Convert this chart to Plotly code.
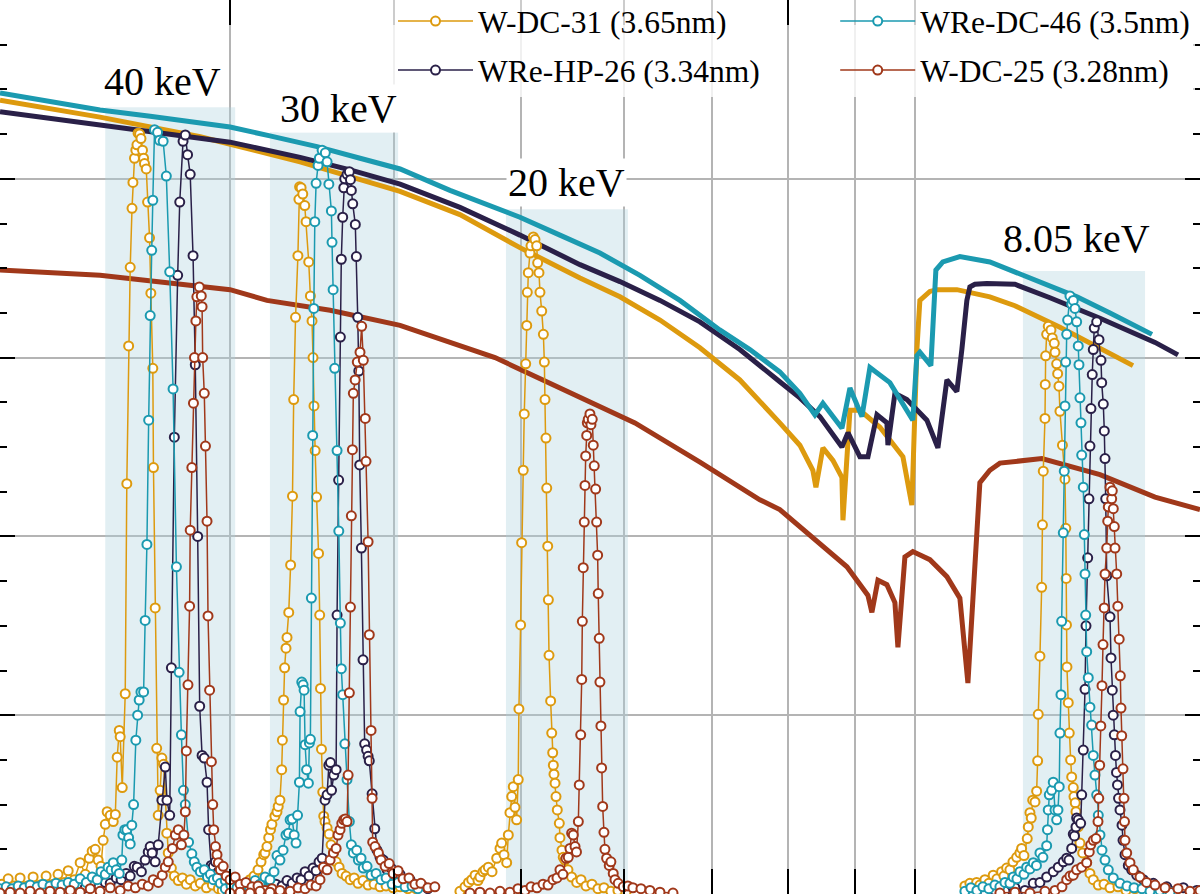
import numpy as np
import plotly.graph_objects as go

# ---------------- colours ----------------
ORANGE = "#DD9A0E"
TEAL = "#1B9AB0"
NAVY = "#2A2048"
RUST = "#A0381A"
SHADE = "rgba(172,210,220,0.35)"
GRID = "#B4B4B4"

# ---------------- thick curves: (theta [deg], reflectivity) ----------------
teal_curve = [(0.2002,.896),(.2186,.887),(.2387,.877),(.2607,.870),(.2847,.862),(.3000,.858),(.3218,.848),(.3496,.836),
              (.3770,.823),(.4045,.811),(.4416,.787),(.4994,.757),(.5358,.737),(.5748,.717),(.6167,.692),(.6616,.664),
              (.7096,.631),(.7482,.609),(.7886,.584),(.8169,.560),(.8388,.536),(.8507,.549),(.8796,.521),(.8921,.566),
              (.9111,.534),(.9240,.589),(.9570,.572),(.9964,.530),(1.0035,.602),(1.0088,.606),(1.0285,.591),(1.0376,.698),
              (1.0504,.707),(1.0634,.710),(1.0823,.713),(1.1409,.707),(1.1923,.696),(1.2680,.681),(1.3297,.668),
              (1.4092,.650),(1.5172,.626)]
navy_curve = [(0.2002,.875),(.2387,.860),(.3000,.841),(.3393,.824),(.3705,.810),(.4045,.794),(.4494,.768),(.4994,.737),
              (.5550,.704),(.5954,.685),(.6388,.664),(.6853,.640),(.7351,.609),(.7886,.573),(.8169,.555),(.8462,.534),
              (.8796,.500),(.8890,.516),(.9079,.489),(.9208,.489),(.9355,.536),(.9520,.527),(.9537,.502),(.9655,.560),
              (.9860,.553),(1.0213,.530),(1.0413,.499),(1.0579,.575),(1.0766,.562),(1.0861,.609),(1.0957,.664),
              (1.1015,.679),(1.1112,.682),(1.1349,.683),(1.1923,.682),(1.2680,.667),(1.3846,.644),(1.5253,.617),
              (1.5882,.603)]
orange_curve = [(0.2002,.888),(.2387,.869),(.2847,.847),(.3393,.819),(.4045,.786),(.4494,.760),(.4994,.723),(.5550,.689),
                (.5954,.668),(.6388,.642),(.6853,.611),(.7351,.575),(.7886,.527),(.8169,.502),(.8358,.474),(.8403,.455),
                (.8507,.499),(.8658,.485),(.8796,.466),(.8812,.418),(.8921,.541),(.9079,.541),(.9404,.522),(.9792,.489),
                (.9947,.435),(1.0035,.609),(1.0088,.664),(1.0267,.674),(1.0394,.676),(1.0766,.676),(1.1409,.668),
                (1.1923,.658),(1.2905,.634),(1.3846,.611),(1.4674,.591)]
rust_curve = [(0.2002,.698),(.2387,.692),(.3000,.676),(.3201,.664),(.3577,.653),(.4045,.636),(.4780,.600),(.5358,.566),
              (.6113,.527),(.6853,.483),(.7614,.441),(.7886,.430),(.8358,.399),(.8874,.366),(.9208,.334),(.9272,.315),
              (.9371,.351),(.9520,.346),(.9655,.326),(.9706,.276),(.9826,.377),(.9964,.383),(1.0267,.374),(1.0579,.355),
              (1.0823,.331),(1.0977,.236),(1.1210,.460),(1.1409,.474),(1.1612,.482),(1.2502,.487),(1.3846,.469),
              (1.5253,.444),(1.6508,.430)]

# ---------------- measured scans: (theta [deg], reflectivity) ----------------
o40 = [(.2009,.011),(.2031,.017),(.2052,.009),(.2074,.018),(.2100,.009),(.2122,.019),(.2148,.010),(.2171,.020),(.2198,.011),
       (.2217,.022),(.2241,.013),(.2257,.026),(.2281,.016),(.2305,.035),(.2326,.022),(.2342,.040),(.2354,.048),(.2367,.050),
       (.2379,.038),(.2391,.031),(.2400,.060),(.2409,.078),(.2417,.092),(.2430,.088),(.2443,.081),(.2452,.089),(.2460,.153),
       (.2469,.183),(.2473,.176),(.2482,.119),(.2495,.224),(.2502,.459),(.2510,.613),(.2517,.701),(.2525,.767),(.2529,.796),
       (.2536,.823),(.2542,.832),(.2547,.838),(.2552,.851),(.2559,.850),(.2565,.845),(.2572,.832),(.2577,.823),(.2581,.817),
       (.2589,.811),(.2595,.774),(.2604,.734),(.2610,.672),(.2619,.588),(.2622,.477),(.2630,.320),(.2637,.163),(.2644,.088),
       (.2653,.116),(.2661,.152),(.2669,.145),(.2677,.105),(.2684,.068),(.2691,.046),(.2706,.029),(.2720,.020),(.2739,.015),
       (.2759,.018),(.2778,.011),(.2797,.016),(.2822,.009),(.2847,.012),(.2878,.007),(.2908,.010),(.2939,.006),(.2975,.008),
       (.3011,.004),(.3053,.007),(.3107,.003),(.3162,.004)]
t40 = [(.2002,.006),(.2024,.008),(.2045,.006),(.2067,.009),(.2089,.007),(.2111,.010),(.2137,.008),(.2159,.011),(.2186,.009),
       (.2209,.012),(.2233,.010),(.2257,.013),(.2281,.011),(.2305,.017),(.2330,.013),(.2354,.019),(.2375,.016),(.2391,.025),
       (.2409,.022),(.2421,.030),(.2434,.027),(.2443,.035),(.2456,.027),(.2469,.023),(.2480,.038),(.2485,.066),(.2493,.072),
       (.2502,.072),(.2510,.063),(.2517,.056),(.2524,.077),(.2532,.100),(.2542,.172),(.2550,.200),(.2557,.217),(.2565,.226),
       (.2577,.226),(.2584,.306),(.2592,.391),(.2600,.530),(.2607,.647),(.2614,.720),(.2619,.776),(.2627,.855),(.2641,.852),
       (.2650,.843),(.2667,.842),(.2682,.803),(.2698,.696),(.2714,.565),(.2730,.366),(.2743,.248),(.2754,.178),(.2764,.116),
       (.2773,.100),(.2789,.058),(.2805,.045),(.2817,.036),(.2830,.030),(.2847,.025),(.2867,.027),(.2883,.019),(.2898,.022),
       (.2913,.016),(.2934,.018),(.2949,.012),(.2975,.015),(.3000,.010),(.3032,.012),(.3064,.008),(.3096,.010),(.3135,.007),
       (.3173,.008),(.3218,.006)]
n40 = [(.2002,.002),(.2027,.004),(.2052,.002),(.2078,.006),(.2104,.003),(.2130,.007),(.2156,.003),(.2186,.008),(.2213,.004),
       (.2241,.009),(.2269,.006),(.2297,.010),(.2326,.007),(.2354,.011),(.2383,.008),(.2409,.013),(.2430,.012),(.2456,.018),
       (.2477,.016),(.2499,.023),(.2517,.020),(.2535,.031),(.2548,.030),(.2567,.025),(.2584,.038),(.2598,.047),(.2607,.053),
       (.2616,.046),(.2630,.036),(.2644,.055),(.2661,.105),(.2677,.142),(.2685,.105),(.2698,.088),(.2706,.253),(.2720,.511),
       (.2736,.692),(.2746,.774),(.2762,.842),(.2773,.849),(.2784,.827),(.2797,.805),(.2811,.714),(.2822,.592),(.2834,.400),
       (.2844,.210),(.2856,.155),(.2867,.152),(.2881,.125),(.2889,.072),(.2902,.032),(.2913,.031),(.2924,.036),(.2939,.025),
       (.2959,.016),(.2980,.020),(.3000,.011),(.3027,.015),(.3053,.008),(.3085,.011),(.3118,.006),(.3151,.008),(.3190,.003)]
r40 = [(.2002,.001),(.2038,.002),(.2074,.001),(.2111,.003),(.2148,.001),(.2186,.003),(.2225,.002),(.2265,.004),(.2305,.002),
       (.2346,.006),(.2387,.003),(.2430,.007),(.2473,.004),(.2508,.009),(.2540,.007),(.2571,.011),(.2598,.009),(.2621,.016),
       (.2644,.013),(.2663,.021),(.2677,.030),(.2691,.036),(.2711,.051),(.2725,.066),(.2739,.072),(.2754,.055),(.2766,.066),
       (.2773,.092),(.2778,.160),(.2786,.234),(.2794,.322),(.2797,.407),(.2805,.477),(.2813,.549),(.2818,.600),(.2825,.641),
       (.2830,.668),(.2842,.679),(.2852,.669),(.2856,.657),(.2859,.600),(.2867,.560),(.2873,.501),(.2881,.417),(.2886,.311),
       (.2894,.228),(.2903,.148),(.2910,.100),(.2915,.072),(.2924,.053),(.2932,.044),(.2939,.035),(.2949,.027),(.2964,.031),
       (.2980,.020),(.3000,.016),(.3027,.019),(.3053,.011),(.3085,.013),(.3118,.008),(.3151,.009),(.3190,.004),(.3229,.006),
       (.3275,.002)]
o30 = [(.2959,.004),(.2990,.008),(.3021,.006),(.3053,.011),(.3080,.009),(.3107,.016),(.3129,.020),(.3151,.027),(.3168,.036),
       (.3183,.044),(.3190,.046),(.3201,.053),(.3211,.063),(.3221,.072),(.3229,.078),(.3246,.087),(.3258,.092),(.3265,.098),
       (.3275,.105),(.3285,.139),(.3289,.172),(.3296,.217),(.3302,.253),(.3310,.275),(.3316,.287),(.3326,.315),(.3337,.368),
       (.3348,.445),(.3355,.553),(.3366,.645),(.3380,.714),(.3386,.777),(.3390,.791),(.3399,.790),(.3409,.783),(.3421,.770),
       (.3429,.752),(.3445,.707),(.3455,.669),(.3465,.641),(.3471,.600),(.3477,.546),(.3484,.496),(.3493,.444),(.3505,.381),
       (.3512,.312),(.3517,.230),(.3523,.162),(.3531,.114),(.3537,.087),(.3545,.081),(.3558,.074),(.3571,.067),(.3583,.055),
       (.3598,.046),(.3615,.036),(.3634,.030),(.3653,.023),(.3679,.020),(.3705,.016),(.3731,.018),(.3757,.012),(.3790,.015),
       (.3824,.010),(.3864,.011),(.3905,.008),(.3947,.009),(.3996,.007),(.4045,.008),(.4101,.006),(.4160,.006)]
t30 = [(.2975,.006),(.3005,.009),(.3037,.007),(.3069,.011),(.3102,.009),(.3135,.015),(.3162,.011),(.3190,.019),(.3218,.016),
       (.3241,.025),(.3258,.043),(.3275,.038),(.3293,.049),(.3310,.066),(.3324,.068),(.3334,.083),(.3346,.084),(.3358,.066),
       (.3369,.057),(.3378,.088),(.3389,.125),(.3393,.204),(.3403,.237),(.3411,.234),(.3417,.228),(.3423,.167),(.3432,.139),
       (.3443,.124),(.3449,.169),(.3455,.173),(.3461,.331),(.3469,.513),(.3476,.655),(.3482,.752),(.3490,.795),(.3502,.815),
       (.3510,.823),(.3527,.832),(.3547,.829),(.3558,.819),(.3569,.794),(.3585,.764),(.3589,.729),(.3596,.676),(.3606,.588),
       (.3621,.496),(.3632,.406),(.3642,.303),(.3648,.252),(.3657,.223),(.3671,.168),(.3685,.128),(.3700,.081),(.3713,.055),
       (.3726,.046),(.3748,.049),(.3759,.038),(.3777,.040),(.3792,.029),(.3817,.031),(.3844,.021),(.3878,.023),(.3912,.016),
       (.3947,.018),(.3989,.011),(.4031,.013),(.4081,.008),(.4131,.009),(.4174,.006)]
n30 = [(.2990,.002),(.3027,.004),(.3064,.003),(.3102,.007),(.3140,.004),(.3179,.009),(.3218,.007),(.3252,.011),(.3287,.009),
       (.3316,.015),(.3346,.012),(.3375,.018),(.3399,.016),(.3423,.025),(.3447,.020),(.3471,.029),(.3490,.026),(.3508,.036),
       (.3527,.040),(.3545,.105),(.3558,.111),(.3569,.144),(.3579,.147),(.3586,.116),(.3600,.133),(.3615,.139),(.3621,.312),
       (.3631,.463),(.3642,.623),(.3648,.710),(.3657,.757),(.3664,.790),(.3670,.800),(.3685,.805),(.3700,.808),(.3707,.799),
       (.3713,.787),(.3722,.772),(.3739,.749),(.3746,.713),(.3755,.645),(.3762,.585),(.3768,.480),(.3779,.387),(.3790,.262),
       (.3801,.168),(.3814,.161),(.3824,.154),(.3832,.149),(.3851,.112),(.3869,.073),(.3884,.049),(.3905,.041),(.3928,.038),
       (.3954,.027),(.3982,.029),(.4010,.020),(.4045,.022),(.4081,.015),(.4116,.016),(.4160,.009),(.4204,.010),(.4248,.006)]
r30 = [(.3000,.001),(.3053,.002),(.3107,.001),(.3162,.003),(.3218,.002),(.3275,.004),(.3334,.003),(.3381,.007),(.3423,.006),
       (.3459,.010),(.3490,.009),(.3514,.016),(.3535,.030),(.3558,.027),(.3577,.038),(.3598,.046),(.3615,.051),(.3627,.066),
       (.3640,.072),(.3651,.079),(.3663,.083),(.3674,.084),(.3685,.081),(.3692,.133),(.3700,.225),(.3707,.321),(.3713,.423),
       (.3720,.497),(.3726,.560),(.3738,.575),(.3752,.595),(.3770,.606),(.3781,.635),(.3792,.597),(.3805,.532),(.3810,.484),
       (.3824,.394),(.3832,.290),(.3844,.183),(.3851,.107),(.3855,.058),(.3871,.053),(.3894,.046),(.3912,.038),(.3940,.031),
       (.3968,.034),(.3996,.023),(.4031,.026),(.4066,.017),(.4109,.018),(.4152,.011),(.4196,.012),(.4248,.007),(.4300,.008)]
o20 = [(.4494,.003),(.4534,.008),(.4562,.013),(.4588,.016),(.4615,.021),(.4639,.015),(.4655,.019),(.4680,.025),(.4697,.027),
       (.4724,.030),(.4755,.025),(.4794,.040),(.4822,.051),(.4836,.057),(.4856,.044),(.4879,.035),(.4893,.066),(.4907,.091),
       (.4922,.109),(.4936,.120),(.4951,.097),(.4965,.083),(.4979,.128),(.4985,.207),(.5000,.301),(.5009,.393),(.5023,.474),
       (.5032,.537),(.5045,.593),(.5054,.636),(.5059,.673),(.5068,.695),(.5083,.717),(.5092,.725),(.5113,.735),(.5128,.732),
       (.5143,.725),(.5152,.706),(.5164,.695),(.5173,.673),(.5189,.652),(.5204,.626),(.5213,.595),(.5219,.553),(.5228,.510),
       (.5235,.454),(.5244,.389),(.5250,.329),(.5256,.267),(.5271,.216),(.5281,.180),(.5290,.158),(.5296,.144),(.5302,.134),
       (.5312,.124),(.5321,.109),(.5333,.094),(.5352,.079),(.5358,.063),(.5377,.049),(.5389,.041),(.5405,.038),(.5434,.027),
       (.5469,.019),(.5518,.013),(.5560,.016),(.5609,.009),(.5668,.011),(.5728,.006),(.5789,.007),(.5860,.003),(.5933,.004),
       (.6017,.002)]
r20 = [(.4574,.001),(.4655,.002),(.4738,.001),(.4822,.003),(.4907,.002),(.4977,.006),(.5039,.004),(.5092,.008),(.5146,.007),
       (.5201,.011),(.5247,.010),(.5293,.016),(.5330,.018),(.5358,.027),(.5386,.022),(.5415,.040),(.5437,.041),(.5453,.051),
       (.5469,.068),(.5485,.066),(.5502,.053),(.5516,.047),(.5534,.081),(.5543,.122),(.5557,.178),(.5567,.240),(.5573,.305),
       (.5582,.365),(.5592,.416),(.5599,.457),(.5606,.490),(.5616,.513),(.5622,.527),(.5631,.531),(.5648,.537),(.5658,.525),
       (.5671,.531),(.5681,.502),(.5691,.479),(.5705,.453),(.5715,.416),(.5725,.379),(.5731,.336),(.5741,.286),(.5748,.237),
       (.5758,.188),(.5765,.141),(.5776,.098),(.5789,.069),(.5799,.050),(.5816,.040),(.5843,.032),(.5860,.036),(.5884,.023),
       (.5902,.016),(.5936,.012),(.5989,.008),(.6038,.009),(.6091,.007),(.6178,.006),(.6276,.004),(.6388,.002),(.6536,.001)]
o8 = [(1.0919,.009),(1.1015,.012),(1.1146,.013),(1.1210,.010),(1.1310,.016),(1.1389,.012),(1.1476,.021),(1.1551,.017),
      (1.1647,.025),(1.1694,.020),(1.1750,.029),(1.1818,.027),(1.1881,.036),(1.1959,.041),(1.2028,.046),(1.2064,.051),
      (1.2114,.043),(1.2184,.062),(1.2206,.075),(1.2242,.091),(1.2270,.085),(1.2301,.105),(1.2351,.103),(1.2387,.115),
      (1.2409,.149),(1.2422,.201),(1.2459,.266),(1.2497,.343),(1.2514,.413),(1.2532,.473),(1.2570,.532),(1.2576,.570),
      (1.2585,.602),(1.2607,.626),(1.2642,.635),(1.2703,.631),(1.2732,.622),(1.2777,.616),(1.2793,.606),(1.2831,.593),
      (1.2853,.582),(1.2883,.568),(1.2905,.540),(1.2962,.502),(1.3020,.464),(1.3038,.409),(1.3047,.353),(1.3054,.301),
      (1.3065,.254),(1.3095,.214),(1.3118,.180),(1.3150,.150),(1.3174,.131),(1.3211,.119),(1.3227,.109),(1.3257,.102),
      (1.3274,.092),(1.3327,.075),(1.3367,.057),(1.3431,.046),(1.3526,.035),(1.3604,.023),(1.3684,.016),(1.3805,.010),
      (1.3944,.011),(1.4092,.007),(1.4292,.008),(1.4494,.004),(1.4726,.006),(1.4987,.003)]
t8 = [(1.0919,.003),(1.1035,.007),(1.1152,.004),(1.1270,.008),(1.1389,.006),(1.1510,.010),(1.1612,.008),(1.1715,.013),
      (1.1818,.012),(1.1887,.019),(1.1965,.017),(1.2028,.025),(1.2114,.022),(1.2171,.030),(1.2242,.028),(1.2314,.035),
      (1.2383,.032),(1.2459,.046),(1.2525,.041),(1.2607,.054),(1.2625,.072),(1.2642,.094),(1.2665,.111),(1.2718,.116),
      (1.2754,.125),(1.2793,.094),(1.2831,.083),(1.2860,.094),(1.2889,.120),(1.2905,.180),(1.2928,.223),(1.2944,.305),
      (1.2981,.404),(1.3003,.473),(1.3020,.546),(1.3036,.595),(1.3059,.626),(1.3081,.642),(1.3134,.669),(1.3174,.660),
      (1.3211,.664),(1.3251,.655),(1.3290,.640),(1.3327,.613),(1.3344,.592),(1.3367,.555),(1.3391,.527),(1.3408,.491),
      (1.3446,.455),(1.3470,.402),(1.3487,.358),(1.3503,.312),(1.3526,.271),(1.3564,.242),(1.3604,.209),(1.3645,.189),
      (1.3684,.155),(1.3725,.133),(1.3766,.111),(1.3805,.088),(1.3846,.066),(1.3895,.049),(1.3969,.038),(1.4050,.027),
      (1.4174,.018),(1.4342,.012),(1.4520,.009),(1.4700,.007),(1.4908,.006),(1.5119,.003),(1.5387,.004),(1.5660,.002)]
n8 = [(1.1310,.002),(1.1510,.004),(1.1715,.003),(1.1923,.007),(1.2135,.004),(1.2314,.012),(1.2459,.013),(1.2607,.019),
      (1.2754,.025),(1.2867,.030),(1.2981,.036),(1.3059,.040),(1.3111,.038),(1.3174,.051),(1.3211,.067),(1.3239,.065),
      (1.3274,.075),(1.3290,.085),(1.3327,.083),(1.3384,.079),(1.3408,.111),(1.3446,.161),(1.3487,.229),(1.3510,.300),
      (1.3550,.376),(1.3580,.442),(1.3604,.501),(1.3628,.543),(1.3659,.581),(1.3684,.609),(1.3708,.633),(1.3766,.640),
      (1.3822,.620),(1.3871,.597),(1.3888,.572),(1.3927,.548),(1.3952,.518),(1.3969,.487),(1.3986,.442),(1.4011,.356),
      (1.4092,.310),(1.4117,.264),(1.4149,.228),(1.4172,.200),(1.4199,.178),(1.4229,.155),(1.4254,.136),(1.4279,.122),
      (1.4305,.107),(1.4342,.094),(1.4393,.077),(1.4418,.060),(1.4469,.044),(1.4553,.032),(1.4640,.027),(1.4770,.021),
      (1.4942,.016),(1.5207,.012),(1.5570,.008),(1.6031,.007),(1.6413,.004)]
r8 = [(1.1612,.001),(1.1923,.002),(1.2242,.001),(1.2570,.003),(1.2793,.004),(1.2951,.008),(1.3059,.016),(1.3134,.020),
      (1.3211,.021),(1.3290,.027),(1.3407,.030),(1.3526,.035),(1.3587,.047),(1.3621,.055),(1.3684,.060),(1.3749,.062),
      (1.3798,.081),(1.3817,.107),(1.3839,.144),(1.3866,.188),(1.3895,.233),(1.3920,.279),(1.3950,.320),(1.3969,.358),
      (1.4011,.387),(1.4036,.417),(1.4050,.433),(1.4092,.455),(1.4134,.442),(1.4149,.451),(1.4174,.431),(1.4199,.411),
      (1.4217,.387),(1.4259,.358),(1.4287,.322),(1.4322,.285),(1.4350,.244),(1.4367,.208),(1.4385,.177),(1.4418,.140),
      (1.4443,.107),(1.4456,.081),(1.4469,.060),(1.4512,.046),(1.4596,.035),(1.4681,.027),(1.4855,.019),(1.5030,.013),
      (1.5253,.010),(1.5524,.007),(1.5882,.006),(1.6220,.003),(1.6508,.004)]

# shaded energy windows: (theta_min, theta_max, top reflectivity) and labels
windows = [(0.2409, 0.3027, 0.880), (0.3218, 0.4031, 0.852), (0.4873, 0.6038, 0.766), (1.2092, 1.4987, 0.697)]
labels = ["40 keV", "30 keV", "20 keV", "8.05 keV"]
label_pos = [(0.2665, 0.909), (0.3627, 0.879), (0.5424, 0.796), (1.3297, 0.733)]

# (legend label, colour, model curve, scans, which legend box)
samples = [
    ("W-DC-31 (3.65nm)", ORANGE, orange_curve, [o40, o30, o20, o8], "legend"),
    ("WRe-HP-26 (3.34nm)", NAVY, navy_curve, [n40, n30, n8], "legend"),
    ("WRe-DC-46 (3.5nm)", TEAL, teal_curve, [t40, t30, t8], "legend2"),
    ("W-DC-25 (3.28nm)", RUST, rust_curve, [r40, r30, r20, r8], "legend2"),
]

fig = go.Figure()

# shaded energy windows (filled, semi-transparent so the grid shows through)
for x0, x1, top in windows:
    fig.add_trace(go.Scatter(x=[x0, x1, x1, x0, x0], y=[0, 0, top, top, 0], mode="lines",
                             fill="toself", fillcolor=SHADE, line=dict(width=0),
                             showlegend=False, hoverinfo="skip"))

# thick model curves
for name, col, curve, scans, leg in samples:
    xs, ys = zip(*curve)
    fig.add_trace(go.Scatter(x=xs, y=ys, mode="lines", line=dict(color=col, width=5),
                             showlegend=False, hoverinfo="skip"))

# measured scans
for name, col, curve, scans, leg in samples:
    for i, sc in enumerate(scans):
        xs, ys = zip(*sc)
        fig.add_trace(go.Scatter(
            x=xs, y=ys, mode="lines+markers", name=name, legendgroup=name, legend=leg,
            showlegend=(i == 0),
            line=dict(color=col, width=1.5),
            marker=dict(symbol="circle", size=9, color="white", line=dict(color=col, width=2)),
            hoverinfo="skip"))

annotations = []
for txt, (lx, ly) in zip(labels, label_pos):
    annotations.append(dict(x=np.log10(lx), y=ly, xref="x", yref="y", text=txt, showarrow=False,
                            font=dict(family="Liberation Serif", size=40, color="black"),
                            bgcolor="white", borderpad=1, xanchor="center", yanchor="middle"))

legend_common = dict(orientation="v", yanchor="top", y=1.0066, xanchor="left",
                     itemwidth=75, tracegroupgap=5, entrywidth=442, entrywidthmode="pixels",
                     bgcolor="rgba(255,255,255,0.8)", borderwidth=0,
                     font=dict(family="Liberation Serif", size=31.5, color="black"))

fig.update_layout(
    width=1200, height=894, margin=dict(l=0, r=0, t=0, b=0, autoexpand=False),
    plot_bgcolor="white", paper_bgcolor="white",
    annotations=annotations,
    legend=dict(x=0.3275, **legend_common),
    legend2=dict(x=0.696, **legend_common),
    xaxis=dict(type="log", range=[np.log10(0.2002), np.log10(1.6508)],
               tickvals=[0.3, 0.4, 0.5, 0.6, 0.7, 0.8, 0.9, 1.0], showticklabels=False,
               ticks="inside", ticklen=25, tickwidth=2, tickcolor="black",
               showgrid=True, gridcolor=GRID, gridwidth=2, zeroline=False,
               showline=True, linecolor=GRID, linewidth=2, mirror="ticks"),
    yaxis=dict(range=[0, 1], tick0=0, dtick=0.2, showticklabels=False,
               ticks="inside", ticklen=15, tickwidth=2, tickcolor="black",
               showgrid=True, gridcolor=GRID, gridwidth=2, zeroline=False,
               showline=True, linecolor=GRID, linewidth=2, mirror="ticks",
               minor=dict(dtick=0.05, tick0=0, ticks="inside", ticklen=7, tickwidth=2,
                          tickcolor="black", showgrid=False)),
)

fig.write_html("out.html")
